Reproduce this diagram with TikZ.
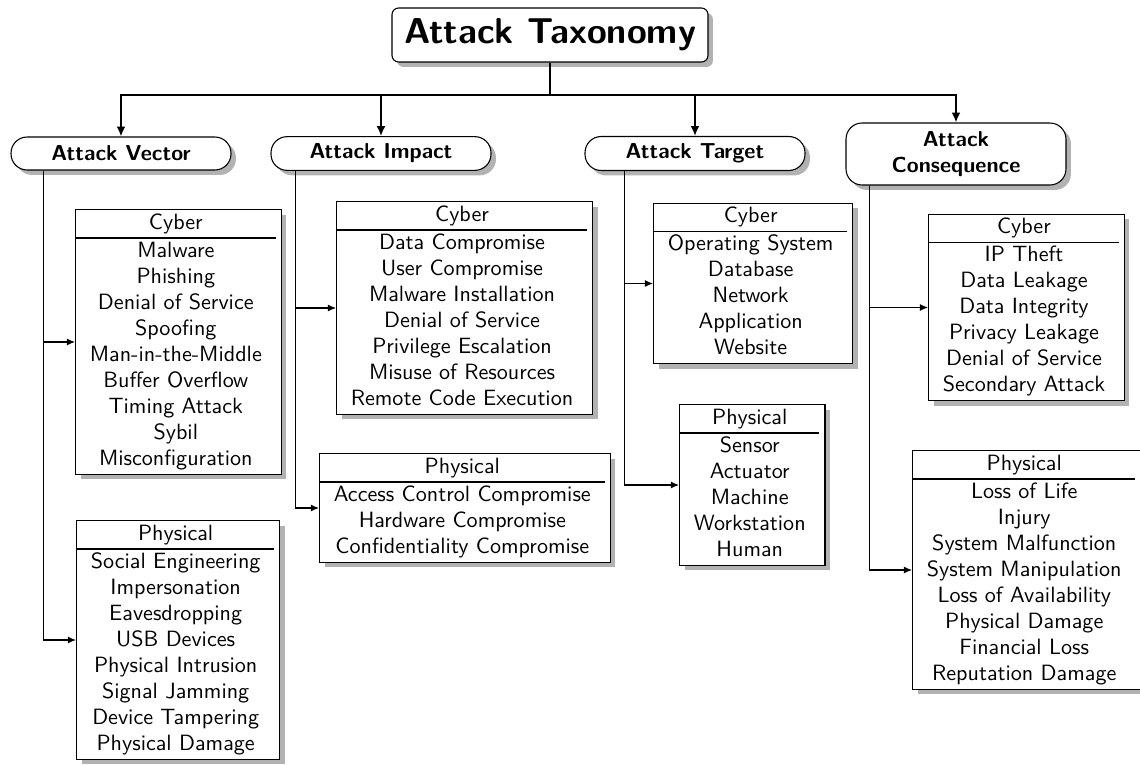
\documentclass[tikz,border=0pt]{standalone}
\usetikzlibrary{shapes.multipart,shadows,arrows.meta}
\newcommand{\itemlist}[1]{\begin{tabular}{@{}c@{\hspace{2.3pt}}}#1\end{tabular}}
% one unit = 0.4615pt
\tikzset{
  shade/.style={drop shadow={shadow xshift=2.3pt, shadow yshift=-2.3pt, fill=black!30, opacity=1}},
  rootbox/.style={draw, line width=0.5pt, fill=white, rounded corners=3pt, shade,
    font=\fontsize{16.6pt}{20pt}\sffamily\bfseries, minimum width=145.8pt, minimum height=24.9pt},
  catbox/.style={draw, line width=0.5pt, fill=white, rounded corners=7.4pt, shade,
    font=\sffamily\bfseries, align=center, minimum width=101.5pt, minimum height=15.2pt},
  listbox/.style={rectangle split, rectangle split parts=2, rectangle split draw splits=false,
    draw, line width=0.5pt, fill=white, shade, font=\fontsize{10.2pt}{12pt}\sffamily,
    inner xsep=6.6pt, inner ysep=0.3pt, anchor=west},
  trunk/.style={line width=0.9pt, -{Latex[length=4.6pt, width=4.15pt]}},
  branch/.style={line width=0.5pt, -{Latex[length=3.7pt, width=3.2pt]}},
}
\begin{document}
\begin{tikzpicture}[x=0.4615pt, y=-0.4615pt]
\useasboundingbox (0,0) rectangle (1140,765);

% root and the four categories
\node[rootbox] (tax) at (550,35) {Attack Taxonomy};
\node[catbox] (av) at (121,153.5) {Attack Vector};
\node[catbox] (ai) at (381,153.5) {Attack Impact};
\node[catbox] (at) at (695,153.5) {Attack Target};
\node[catbox, minimum height=28.6pt] (ac) at (956,154) {Attack\\Consequence};

% leaf lists
\node[listbox] (avc) at (75,342) {\itemlist{Cyber}\nodepart{two}\itemlist{Malware\\Phishing\\Denial of Service\\Spoofing\\Man-in-the-Middle\\Buffer Overflow\\Timing Attack\\Sybil\\Misconfiguration}};
\node[listbox] (avp) at (76,640) {\itemlist{Physical}\nodepart{two}\itemlist{Social Engineering\\Impersonation\\Eavesdropping\\USB Devices\\Physical Intrusion\\Signal Jamming\\Device Tampering\\Physical Damage}};
\node[listbox] (aic) at (336,308) {\itemlist{Cyber}\nodepart{two}\itemlist{Data Compromise\\User Compromise\\Malware Installation\\Denial of Service\\Privilege Escalation\\Misuse of Resources\\Remote Code Execution}};
\node[listbox] (aip) at (319,508) {\itemlist{Physical}\nodepart{two}\itemlist{Access Control Compromise\\Hardware Compromise\\Confidentiality Compromise}};
\node[listbox] (atc) at (653,283.5) {\itemlist{Cyber}\nodepart{two}\itemlist{Operating System\\Database\\Network\\Application\\Website}};
\node[listbox] (atp) at (679,485) {\itemlist{Physical}\nodepart{two}\itemlist{Sensor\\Actuator\\Machine\\Workstation\\Human}};
\node[listbox] (acc) at (928,307.5) {\itemlist{Cyber}\nodepart{two}\itemlist{IP Theft\\Data Leakage\\Data Integrity\\Privacy Leakage\\Denial of Service\\Secondary Attack}};
\node[listbox] (acp) at (912,570) {\itemlist{Physical}\nodepart{two}\itemlist{Loss of Life\\Injury\\System Malfunction\\System Manipulation\\Loss of Availability\\Physical Damage\\Financial Loss\\Reputation Damage}};

% header rules inside the lists
\foreach \b in {avc,avp,aic,aip,atc,atp,acc,acp}
  \draw[line width=0.5pt] (\b.one split west) -- ([xshift=-2.8pt]\b.one split east);

% trunk from the root to the categories
\coordinate (hub) at (550,95);
\draw[line width=0.9pt] (tax.south) -- (hub);
\foreach \c in {av,ai,at,ac}
  \draw[trunk] (hub) -| (\c.north);

% stems under each category
\coordinate (avs) at ([xshift=15.2pt]av.south west);
\coordinate (ais) at ([xshift=11.5pt]ai.south west);
\coordinate (ats) at ([xshift=18.5pt]at.south west);
\coordinate (acs) at ([xshift=11.1pt]ac.south west);
\draw[branch] (avs) |- (avc.west);
\draw[branch] (avs) |- (avp.west);
\draw[branch] (ais) |- (aic.west);
\draw[branch] (ais) |- (aip.west);
\draw[branch] (ats) |- (atc.west);
\draw[branch] (ats) |- (atp.west);
\draw[branch] (acs) |- (acc.west);
\draw[branch] (acs) |- (acp.west);
\end{tikzpicture}
\end{document}
